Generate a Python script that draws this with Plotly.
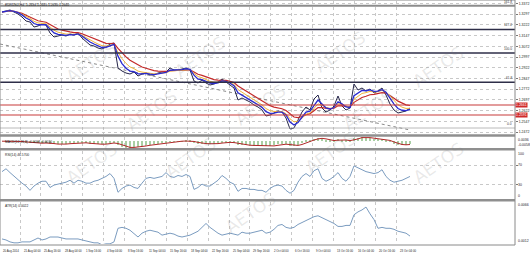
import plotly.graph_objects as go
import pandas as pd

# ---------------- data ----------------
close = [1.3312, 1.3319, 1.3326, 1.3312, 1.3298, 1.3277, 1.3249, 1.3242, 1.3207, 1.3214,
         1.3228, 1.3221, 1.3165, 1.3137, 1.3144, 1.3151, 1.3144, 1.3158, 1.3151, 1.3165,
         1.3130, 1.3102, 1.3081, 1.3074, 1.3060, 1.3053, 1.3067, 1.3088, 1.3095, 1.2920,
         1.2899, 1.2885, 1.2878, 1.2892, 1.2864, 1.2878, 1.2885, 1.2871, 1.2871, 1.2885,
         1.2892, 1.2892, 1.2920, 1.2906, 1.2906, 1.2913, 1.2920, 1.2906, 1.2829, 1.2815,
         1.2836, 1.2815, 1.2801, 1.2808, 1.2822, 1.2843, 1.2822, 1.2801, 1.2780, 1.2696,
         1.2710, 1.2696, 1.2682, 1.2661, 1.2647, 1.2626, 1.2584, 1.2591, 1.2605, 1.2619,
         1.2612, 1.2570, 1.2493, 1.2500, 1.2556, 1.2612, 1.2647, 1.2626, 1.2703, 1.2731,
         1.2640, 1.2612, 1.2626, 1.2654, 1.2724, 1.2654, 1.2626, 1.2640, 1.2808, 1.2766,
         1.2780, 1.2759, 1.2773, 1.2745, 1.2759, 1.2780, 1.2731, 1.2668, 1.2626, 1.2605,
         1.2612, 1.2619, 1.2640]

rsi = [57, 63, 55, 47, 39, 33, 27, 18, 27, 33,
       37, 37, 24, 29, 31, 33, 35, 39, 33, 39,
       37, 33, 33, 37, 39, 43, 47, 53, 43, 14,
       22, 27, 29, 24, 22, 33, 43, 45, 43, 45,
       47, 55, 47, 45, 49, 47, 51, 47, 20, 24,
       31, 27, 27, 33, 39, 49, 43, 35, 31, 16,
       22, 22, 20, 20, 18, 18, 14, 22, 27, 29,
       27, 18, 12, 18, 35, 47, 53, 47, 59, 63,
       43, 37, 41, 47, 55, 43, 37, 47, 69, 65,
       61, 57, 55, 53, 55, 61, 47, 39, 35, 37,
       39, 43, 47]

atr = [0.00185, 0.00172, 0.00147, 0.00135, 0.00135, 0.00147, 0.00147, 0.00147, 0.00172, 0.00197,
       0.00172, 0.00185, 0.00210, 0.00210, 0.00210, 0.00197, 0.00185, 0.00185, 0.00185, 0.00185,
       0.00172, 0.00160, 0.00147, 0.00135, 0.00135, 0.00110, 0.00122, 0.00122, 0.00147, 0.00322,
       0.00334, 0.00322, 0.00297, 0.00259, 0.00210, 0.00259, 0.00284, 0.00297, 0.00284, 0.00272,
       0.00234, 0.00247, 0.00259, 0.00247, 0.00222, 0.00210, 0.00222, 0.00234, 0.00259, 0.00284,
       0.00334, 0.00384, 0.00334, 0.00297, 0.00259, 0.00234, 0.00247, 0.00259, 0.00247, 0.00234,
       0.00272, 0.00259, 0.00259, 0.00272, 0.00284, 0.00297, 0.00259, 0.00272, 0.00309, 0.00359,
       0.00371, 0.00334, 0.00322, 0.00334, 0.00371, 0.00396, 0.00421, 0.00446, 0.00471, 0.00483,
       0.00458, 0.00434, 0.00409, 0.00384, 0.00346, 0.00346, 0.00359, 0.00359, 0.00496, 0.00533,
       0.00558, 0.00595, 0.00508, 0.00434, 0.00322, 0.00334, 0.00322, 0.00322, 0.00309, 0.00284,
       0.00272, 0.00259, 0.00222]

x_labels = ["20 Aug 2014", "21 Aug 04:00", "25 Aug 16:00", "28 Aug 04:00", "1 Sep 16:00",
            "4 Sep 04:00", "8 Sep 16:00", "11 Sep 04:00", "15 Sep 16:00", "18 Sep 04:00",
            "22 Sep 16:00", "25 Sep 04:00", "29 Sep 16:00", "2 Oct 04:00", "6 Oct 16:00",
            "9 Oct 04:00", "13 Oct 16:00", "16 Oct 04:00", "20 Oct 16:00", "23 Oct 04:00"]

fib_prices = [1.3355, 1.3190, 1.3025, 1.2820, 1.2500]
fib_names = ["161.8", "127.2", "100.0", "61.8", "0.0"]
red_prices = [1.2661, 1.2591]
trend_idx = [-0.5, 102]
trend_price = [1.3088, 1.2486]
rsi_levels = [100, 70, 30, 0]
atr_scale = [0.0066, 0.0012]

header = "EURUSD,H4  1.2634 1.2645 1.2630 1.2640"
macd_label = "MACD(12,26,9) -0.0008 -0.0010"
rsi_label = "RSI(14) 46.5700"
atr_label = "ATR(14) 0.0022"

# ---------------- geometry helpers ----------------
W, H = 530, 255
ML, MR, MT, MB = 0, 15, 0, 10
PW, PH = W - ML - MR, H - MT - MB
FONT = "Liberation Sans"
TXT = "#1e1e1e"


def kx(px):  # pixel column -> sample index
    return (px - 2) / 4.0


def py(p):  # pixel row -> paper y
    return 1 - p / PH


def dom(top, bot):
    return [py(bot), py(top)]


idx = list(range(len(close)))
s = pd.Series(close)
ma_fast = s.ewm(span=3).mean()
ma_mid = s.ewm(span=5).mean()
ma_slow = s.ewm(span=9).mean()
macd_main = s.ewm(span=4.5).mean() - s.ewm(span=9.5).mean()
macd_sig = macd_main.rolling(3, min_periods=1).mean()
m_lo = float(min(macd_main.min(), macd_sig.min()))
m_hi = float(max(macd_main.max(), macd_sig.max()))

fig = go.Figure()

# main panel
fig.add_trace(go.Scatter(x=trend_idx, y=trend_price, mode="lines",
                         line=dict(color="#8a8a8a", width=1, dash="dot"), xaxis="x", yaxis="y"))
fig.add_trace(go.Scatter(x=idx, y=close, mode="lines", line=dict(color="#26264a", width=1),
                         xaxis="x", yaxis="y"))
fig.add_trace(go.Scatter(x=idx, y=ma_slow, mode="lines", line=dict(color="#c42a2a", width=1.2),
                         xaxis="x", yaxis="y"))
fig.add_trace(go.Scatter(x=idx, y=ma_mid, mode="lines", line=dict(color="#f0b43c", width=1),
                         xaxis="x", yaxis="y"))
fig.add_trace(go.Scatter(x=idx, y=ma_fast, mode="lines", line=dict(color="#2a2ad0", width=1.3),
                         xaxis="x", yaxis="y"))

# MACD
fig.add_trace(go.Bar(x=idx, y=macd_main, marker=dict(color="#a9cfa4", line=dict(width=0)),
                     width=0.7, xaxis="x2", yaxis="y2"))
fig.add_trace(go.Scatter(x=idx, y=macd_sig, mode="lines", line=dict(color="#b02828", width=1),
                         xaxis="x2", yaxis="y2"))
# RSI
fig.add_trace(go.Scatter(x=idx, y=rsi, mode="lines", line=dict(color="#7b9cc0", width=1),
                         xaxis="x3", yaxis="y3"))
# ATR
fig.add_trace(go.Scatter(x=idx, y=atr, mode="lines", line=dict(color="#7b9cc0", width=1),
                         xaxis="x4", yaxis="y4"))

grid_px = [20 + 20.9 * j for j in range(len(x_labels) - 1)]
grid_k = [kx(g) for g in grid_px]
xr = [kx(0), kx(PW)]

xcommon = dict(range=xr, tickvals=grid_k, showticklabels=False, showgrid=True,
               gridcolor="#c8c8c8", griddash="dot", gridwidth=1, zeroline=False, ticks="")
ycommon = dict(side="right", tickfont=dict(size=3.5, family=FONT, color=TXT),
               ticks="outside", ticklen=2, tickcolor="#777", zeroline=False,
               showgrid=True, gridcolor="#c8c8c8", griddash="dot", gridwidth=1)

layout = dict(
    width=W, height=H, margin=dict(l=ML, r=MR, t=MT, b=MB),
    paper_bgcolor="white", plot_bgcolor="white", showlegend=False, bargap=0,
    xaxis=dict(xcommon, anchor="y"),
    xaxis2=dict(xcommon, anchor="y2", matches="x"),
    xaxis3=dict(xcommon, anchor="y3", matches="x"),
    xaxis4=dict(xcommon, anchor="y4", matches="x"),
    yaxis=dict(ycommon, domain=dom(1, 134), range=[1.2458, 1.3389], tick0=1.2622, dtick=0.0075,
               tickformat=".4f", anchor="x"),
    yaxis2=dict(ycommon, domain=dom(137, 148), range=[m_lo * 1.05, m_hi * 1.05],
                showticklabels=False, ticks="", showgrid=False, anchor="x2"),
    yaxis3=dict(ycommon, domain=dom(151, 199), range=[0, 100], tickvals=[30, 70],
                showticklabels=False, anchor="x3"),
    yaxis4=dict(ycommon, domain=dom(202, 244), range=[atr_scale[1], atr_scale[0]],
                showticklabels=False, ticks="", showgrid=False, anchor="x4"),
)
fig.update_layout(**layout)

shapes = []
for i, (p, n) in enumerate(zip(fib_prices, fib_names)):
    col = "#8c8c8c" if i == 0 else ("#a8a8a8" if n == "0.0" else "#2e2e48")
    wid = 2 if i == 0 else (0.8 if n == "0.0" else 1.5)
    shapes.append(dict(type="line", xref="paper", yref="y", x0=0, x1=1, y0=p, y1=p,
                       line=dict(color=col, width=wid)))
for p in red_prices:
    shapes.append(dict(type="line", xref="paper", yref="y", x0=0, x1=1, y0=p, y1=p,
                       line=dict(color="#c83a3a", width=1.2)))
for top in [135.5, 149.3, 200.3]:
    shapes.append(dict(type="line", xref="paper", yref="paper", x0=0, x1=1,
                       y0=py(top), y1=py(top), line=dict(color="#8f8f8f", width=2.6)))
shapes.append(dict(type="rect", xref="paper", yref="paper", x0=0, x1=1, y0=0, y1=1,
                   line=dict(color="#8a8a8a", width=1)))
fig.update_layout(shapes=shapes)

small = dict(size=3.5, family=FONT, color=TXT)
ann = []
for p, n in zip(fib_prices, fib_names):
    ann.append(dict(xref="paper", yref="y", x=0.998, y=p, text=n, showarrow=False,
                    xanchor="right", yanchor="bottom", font=dict(size=3.2, family=FONT, color="#333")))
for p in red_prices:
    ann.append(dict(xref="paper", yref="y", x=1.0, y=p, text=f"{p:.4f}", showarrow=False,
                    xanchor="left", yanchor="middle", bgcolor="#d02a2a",
                    font=dict(size=3.5, family=FONT, color="white"), borderpad=0))


def right_label(yref, val, text, anchor):
    ann.append(dict(xref="paper", yref=yref, x=1.004, y=val, text=text, showarrow=False,
                    xanchor="left", yanchor=anchor, font=small, borderpad=0))


right_label("y2", m_hi * 1.05, f"{m_hi:.4f}", "top")
right_label("y2", m_lo * 1.05, f"{m_lo:.4f}", "bottom")
for v in rsi_levels:
    right_label("y3", v, str(v), "top" if v == 100 else ("bottom" if v == 0 else "middle"))
right_label("y4", atr_scale[0], f"{atr_scale[0]:.4f}", "top")
right_label("y4", atr_scale[1], f"{atr_scale[1]:.4f}", "bottom")

for txt, top in [(header, 1), (macd_label, 137.5), (rsi_label, 151), (atr_label, 202)]:
    ann.append(dict(xref="paper", yref="paper", x=0.006, y=py(top), text=txt, showarrow=False,
                    xanchor="left", yanchor="top", font=dict(size=3.3, family=FONT, color=TXT)))
# x labels (left aligned at grid lines, MT4 style)
xfont = dict(size=2.8, family=FONT, color=TXT)
ann.append(dict(xref="x4", yref="paper", x=kx(1), y=0, text=x_labels[0], showarrow=False,
                xanchor="left", yanchor="top", yshift=-1.5, font=xfont))
for g, t in zip(grid_px, x_labels[1:]):
    ann.append(dict(xref="x4", yref="paper", x=kx(g + 1.5), y=0, text=t, showarrow=False,
                    xanchor="left", yanchor="top", yshift=-1.5, font=xfont))
# watermark
for wx, wy in [(60, 35), (200, 30), (340, 25), (470, 40), (120, 110), (260, 105), (400, 110),
               (60, 190), (190, 185), (330, 180), (470, 190), (250, 240)]:
    ann.append(dict(xref="paper", yref="paper", x=wx / PW, y=py(wy), text="AETOS", showarrow=False,
                    textangle=-35, font=dict(size=17, family="DejaVu Sans", color="rgba(120,120,120,0.17)")))
fig.update_layout(annotations=ann)

fig.write_html("out.html")
